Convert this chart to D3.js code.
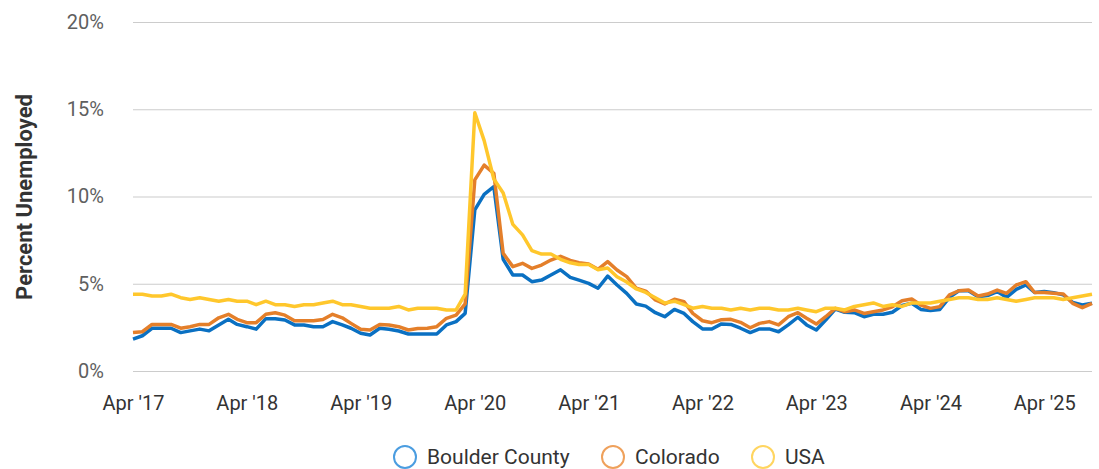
<!DOCTYPE html>
<html>
<head>
<meta charset="utf-8">
<script src="https://cdn.jsdelivr.net/npm/d3@7"></script>
<style>
  body { margin: 0; background: #fff; font-family: Roboto, "Noto Sans", sans-serif; }
</style>
</head>
<body>
<script>
//Width and height
var w = 1099;
var h = 469;

//series, monthly from Apr 2017 to Sep 2025
var boulder = [1.83, 2.02, 2.45, 2.45, 2.45, 2.2, 2.3, 2.4, 2.3, 2.64, 2.96, 2.67, 2.54, 2.4, 3.0, 3.0, 2.92, 2.64, 2.64, 2.54, 2.54,
  2.83, 2.64, 2.45, 2.16, 2.06, 2.45, 2.39, 2.29, 2.12, 2.12, 2.12, 2.12, 2.64, 2.83, 3.3,
  9.23, 10.12, 10.56, 6.4, 5.5, 5.5, 5.12, 5.21, 5.5,
  5.8, 5.37, 5.21, 5.02, 4.74, 5.44, 4.93, 4.45, 3.84, 3.72, 3.34, 3.11, 3.53, 3.3, 2.83, 2.41, 2.41, 2.7,
  2.67, 2.45, 2.2, 2.41, 2.41, 2.25, 2.64, 3.08, 2.64, 2.35, 2.92, 3.55, 3.36, 3.34, 3.11, 3.25, 3.25, 3.37,
  3.75, 3.88, 3.53, 3.46, 3.53, 4.22, 4.6, 4.6, 4.26, 4.32, 4.55, 4.22, 4.68, 4.93, 4.5, 4.55, 4.49, 4.36, 3.93, 3.78, 3.88];
var colorado = [2.2, 2.25, 2.67, 2.67, 2.67, 2.45, 2.54, 2.67, 2.67, 3.05, 3.25, 2.96, 2.77, 2.77, 3.25, 3.34, 3.2, 2.88, 2.88, 2.88, 2.95,
  3.25, 3.05, 2.73, 2.39, 2.35, 2.67, 2.64, 2.54, 2.35, 2.43, 2.45, 2.54, 3.02, 3.2, 3.85,
  10.95, 11.8, 11.33, 6.74, 5.98, 6.17, 5.88, 6.07, 6.36,
  6.57, 6.34, 6.21, 6.13, 5.83, 6.27, 5.79, 5.41, 4.74, 4.58, 4.07, 3.84, 4.11, 3.97, 3.3, 2.88, 2.77, 2.94,
  2.96, 2.79, 2.48, 2.73, 2.83, 2.64, 3.11, 3.34, 3.02, 2.69, 3.11, 3.59, 3.4, 3.5, 3.3, 3.4, 3.5, 3.68,
  4.03, 4.13, 3.78, 3.59, 3.69, 4.36, 4.6, 4.64, 4.3, 4.41, 4.64, 4.45, 4.93, 5.12, 4.5, 4.5, 4.45, 4.41, 3.88, 3.63, 3.88];
var usa = [4.4, 4.4, 4.3, 4.3, 4.4, 4.2, 4.1, 4.2, 4.1,
  4.0, 4.1, 4.0, 4.0, 3.8, 4.0, 3.8, 3.8, 3.7, 3.8, 3.8, 3.9,
  4.0, 3.8, 3.8, 3.7, 3.6, 3.6, 3.6, 3.7, 3.5, 3.6, 3.6, 3.6,
  3.5, 3.5, 4.4, 14.8, 13.2, 11.0, 10.2, 8.4, 7.8, 6.9, 6.7, 6.7,
  6.4, 6.2, 6.1, 6.1, 5.8, 5.9, 5.4, 5.1, 4.7, 4.5, 4.2, 3.9,
  4.0, 3.8, 3.6, 3.7, 3.6, 3.6, 3.5, 3.6, 3.5, 3.6, 3.6, 3.5,
  3.5, 3.6, 3.5, 3.4, 3.6, 3.6, 3.5, 3.7, 3.8, 3.9, 3.7, 3.8,
  3.7, 3.9, 3.9, 3.9, 4.0, 4.1, 4.2, 4.2, 4.1, 4.1, 4.2, 4.1,
  4.0, 4.1, 4.2, 4.2, 4.2, 4.1, 4.2, 4.3, 4.4];

var seriesNames = ["Boulder County", "Colorado", "USA"];
var lineColors = ["#0a70c2", "#e47f2a", "#ffc72c"];
var legendColors = ["#4b9de0", "#efa15c", "#ffd560"];

var yTicks = [0, 5, 10, 15, 20];
var xTickLabels = ["Apr '17", "Apr '18", "Apr '19", "Apr '20", "Apr '21", "Apr '22", "Apr '23", "Apr '24", "Apr '25"];

//one date per month
var months = d3.timeMonth.range(new Date(2017, 3, 1), new Date(2025, 9, 1));
var xTickDates = d3.timeYear.range(new Date(2017, 0, 1), new Date(2026, 0, 1)).map(function(d) {
  return new Date(d.getFullYear(), 3, 1);
});

//scales
var xScale = d3.scaleTime()
    .domain([months[0], months[months.length - 1]])
    .range([133, 1092]);
var yScale = d3.scaleLinear()
    .domain([0, 20])
    .range([371, 22]);

//Create SVG element
var svg = d3.select("body")
            .append("svg")
            .attr("width", w)
            .attr("height", h);

//horizontal grid lines + labels
var yAxis = svg.append("g")
    .attr("transform", "translate(133,0)")
    .call(d3.axisLeft(yScale)
        .tickValues(yTicks)
        .tickSize(-959)
        .tickPadding(29)
        .tickFormat(function(d) { return d + "%"; }));
yAxis.select(".domain").remove();
yAxis.selectAll("line").attr("stroke", "#cccccc").attr("stroke-width", 1.2);
yAxis.selectAll("text")
    .attr("fill", "#5f5f5f")
    .style("font-family", "Roboto")
    .style("font-size", "20px");

//x labels
var xAxis = svg.append("g")
    .attr("transform", "translate(0,371)")
    .call(d3.axisBottom(xScale)
        .tickValues(xTickDates)
        .tickSize(0)
        .tickPadding(25)
        .tickFormat(function(d, i) { return xTickLabels[i]; }));
xAxis.select(".domain").remove();
xAxis.selectAll("text")
    .attr("fill", "#333333")
    .style("font-family", "Roboto")
    .style("font-size", "20px");

//y axis title
svg.append("text")
    .attr("transform", "translate(32,197) rotate(-90)")
    .attr("text-anchor", "middle")
    .attr("fill", "#333333")
    .style("font-family", "Roboto")
    .style("font-weight", "bold")
    .style("font-size", "22px")
    .text("Percent Unemployed");

//lines
var line = d3.line()
    .x(function(d, i) { return xScale(months[i]); })
    .y(function(d) { return yScale(d); });

svg.selectAll("path.series")
   .data([boulder, colorado, usa])
   .enter()
   .append("path")
   .attr("class", "series")
   .attr("d", line)
   .attr("fill", "none")
   .attr("stroke", function(d, i) { return lineColors[i]; })
   .attr("stroke-width", 3.5)
   .attr("stroke-linejoin", "round");

//legend
var legendX = [405, 613, 763];
var legend = svg.selectAll("g.legend")
    .data(seriesNames)
    .enter()
    .append("g")
    .attr("class", "legend")
    .attr("transform", function(d, i) { return "translate(" + legendX[i] + ",457)"; });
legend.append("circle")
    .attr("r", 11)
    .attr("fill", "none")
    .attr("stroke", function(d, i) { return legendColors[i]; })
    .attr("stroke-width", 2);
legend.append("text")
    .attr("x", 22)
    .attr("y", 7)
    .attr("fill", "#333333")
    .style("font-family", "Roboto")
    .style("font-size", "21px")
    .text(function(d) { return d; });
</script>
</body>
</html>
